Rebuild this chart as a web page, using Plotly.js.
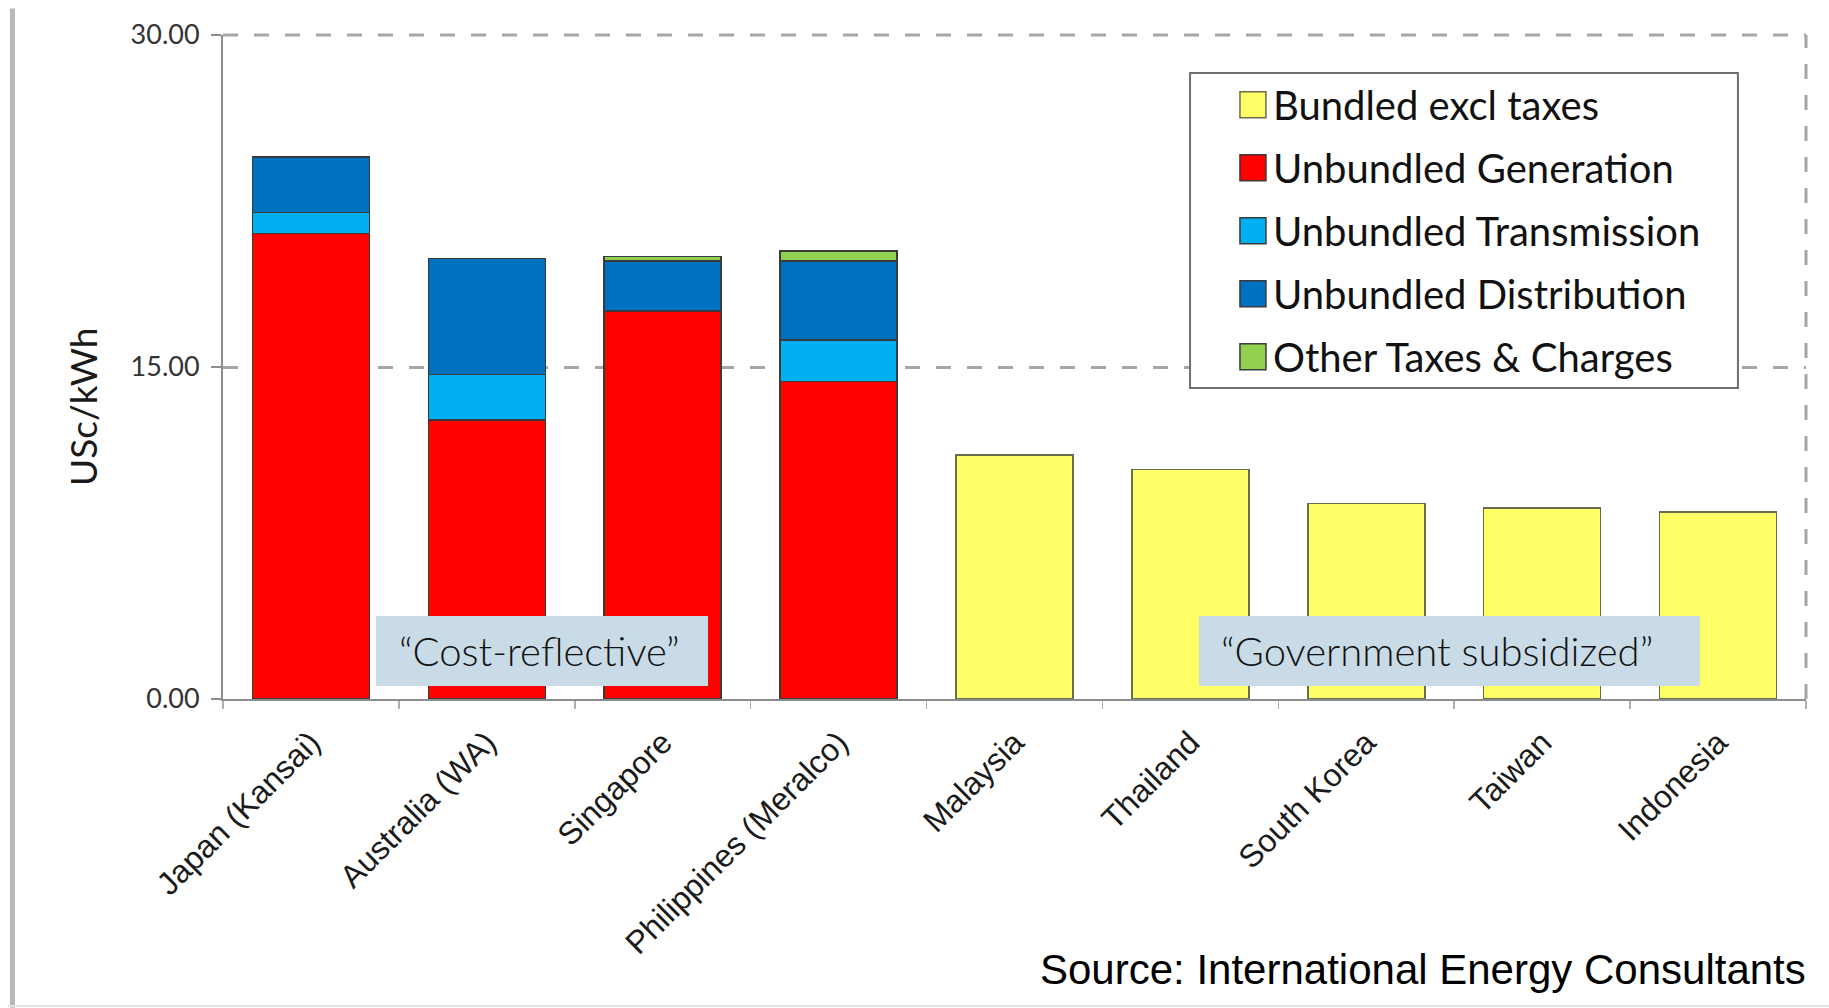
<!DOCTYPE html>
<html>
<head>
<meta charset="utf-8">
<script src="https://cdn.plot.ly/plotly-3.0.1.min.js"></script>
<style>
  html, body { margin: 0; padding: 0; background: #ffffff; }
  #chart { width: 1829px; height: 1008px; }
</style>
</head>
<body>
<div id="chart"></div>
<script>
// ---- Data ----
const categories = ['Japan (Kansai)', 'Australia (WA)', 'Singapore', 'Philippines (Meralco)',
                    'Malaysia', 'Thailand', 'South Korea', 'Taiwan', 'Indonesia'];
const bundledExclTaxes      = [null, null, null, null, 11.03, 10.38, 8.84, 8.64, 8.44];
const unbundledGeneration   = [21.04, 12.60, 17.53, 14.34, null, null, null, null, null];
const unbundledTransmission = [0.95, 2.07, null, 1.88, null, null, null, null, null];
const unbundledDistribution = [2.49, 5.23, 2.27, 3.58, null, null, null, null, null];
const otherTaxesCharges     = [null, null, 0.19, 0.44, null, null, null, null, null];
const seriesNames = ['Bundled excl taxes', 'Unbundled Generation', 'Unbundled Transmission',
                     'Unbundled Distribution', 'Other Taxes & Charges'];
const yTickValues = [0, 15, 30];
const yTickLabels = ['0.00', '15.00', '30.00'];
const yAxisLabel = 'USc/kWh';
const groupLabels = ['“Cost-reflective”', '“Government subsidized”'];
const sourceNote = 'Source: International Energy Consultants';

// ---- Styling ----
const colors = ['#ffff66', '#ff0000', '#00b0f0', '#0070c0', '#92d050'];
const outline = { color: '#3a3a3a', width: 1.5 };
const seriesValues = [bundledExclTaxes, unbundledGeneration, unbundledTransmission,
                      unbundledDistribution, otherTaxesCharges];

const traces = seriesValues.map((vals, i) => ({
  type: 'bar',
  name: seriesNames[i],
  x: categories,
  y: vals,
  legendgroup: 'g' + i,
  marker: { color: colors[i], line: i === 0 ? { color: '#6b6b50', width: 1.5 } : outline },
  hoverinfo: 'x+y+name'
}));

const gridColor = '#a6a6a6';
const axisColor = '#8c8c8c';
const calloutFill = '#c9dbe7';
const calloutFont = { family: 'Lato, "Open Sans", sans-serif', size: 40, weight: 300, color: '#111111' };

const layout = {
  width: 1829,
  height: 1008,
  margin: { l: 223, r: 23, t: 35, b: 309 },
  paper_bgcolor: '#ffffff',
  plot_bgcolor: '#ffffff',
  barmode: 'stack',
  bargap: 0.335,
  showlegend: true,
  legend: {
    x: 0.638, y: 0.944, xanchor: 'left', yanchor: 'top',
    bgcolor: 'rgba(0,0,0,0)',
    borderwidth: 0,
    traceorder: 'grouped',
    tracegroupgap: 8,
    font: { family: 'Lato, "Open Sans", sans-serif', size: 40, color: '#111111' }
  },
  xaxis: {
    type: 'category',
    showline: true, linecolor: axisColor, linewidth: 2,
    ticks: 'outside', tickson: 'boundaries', ticklen: 8, tickcolor: '#b0b0b0', tickwidth: 1.5,
    tickangle: -45,
    ticklabelstandoff: 10,
    tickfont: { family: '"Liberation Sans", Arial, sans-serif', size: 32, color: '#1a1a1a' },
    showgrid: false,
    zeroline: false
  },
  yaxis: {
    range: [0, 30],
    tickvals: yTickValues,
    ticktext: yTickLabels,
    showline: true, linecolor: axisColor, linewidth: 2,
    ticks: 'outside', ticklen: 10, tickcolor: axisColor, tickwidth: 1.5,
    ticklabelstandoff: 6,
    tickfont: { family: 'Lato, "Open Sans", sans-serif', size: 27, color: '#333333' },
    showgrid: true, gridcolor: gridColor, gridwidth: 3, griddash: '15px,16px',
    zeroline: false
  },
  shapes: [
    // dashed top border (30.00 gridline) and right border of plot area
    { type: 'line', xref: 'paper', yref: 'paper', x0: 0, x1: 1, y0: 1, y1: 1,
      line: { color: gridColor, width: 3, dash: '15px,16px' } },
    { type: 'line', xref: 'paper', yref: 'paper', x0: 1, x1: 1, y0: 0, y1: 1,
      line: { color: gridColor, width: 3, dash: '15px,16px' } },
    // legend box
    { type: 'rect', xref: 'paper', yref: 'paper', layer: 'above',
      x0: 0.6109, x1: 0.957, y0: 0.4684, y1: 0.9428,
      fillcolor: '#ffffff', line: { color: '#707070', width: 2 } },
    // call-out boxes
    { type: 'rect', xref: 'paper', yref: 'paper', layer: 'above',
      x0: 0.0967, x1: 0.3064, y0: 0.0196, y1: 0.125,
      fillcolor: calloutFill, line: { width: 0 } },
    { type: 'rect', xref: 'paper', yref: 'paper', layer: 'above',
      x0: 0.6166, x1: 0.9330, y0: 0.0196, y1: 0.125,
      fillcolor: calloutFill, line: { width: 0 } },
    // left frame edge of the slide picture
    { type: 'line', xref: 'paper', yref: 'paper', x0: -0.133, x1: -0.133, y0: -0.465, y1: 1.04,
      line: { color: '#b8b8b8', width: 5 } },
    // bottom frame edge
    { type: 'line', xref: 'paper', yref: 'paper', x0: -0.136, x1: 1.0145, y0: -0.4623, y1: -0.4623,
      line: { color: '#e2e2e2', width: 2 } }
  ],
  annotations: [
    { xref: 'paper', yref: 'paper', x: -0.0884, y: 0.44, xanchor: 'center', yanchor: 'middle',
      text: yAxisLabel, textangle: -90, showarrow: false,
      font: { family: 'Lato, "Open Sans", sans-serif', size: 37, color: '#1a1a1a' } },
    { xref: 'paper', yref: 'paper', x: 0.1099, y: 0.0723, xanchor: 'left', yanchor: 'middle',
      text: groupLabels[0], showarrow: false, font: calloutFont },
    { xref: 'paper', yref: 'paper', x: 0.6292, y: 0.0723, xanchor: 'left', yanchor: 'middle',
      text: groupLabels[1], showarrow: false, font: calloutFont },
    { xref: 'paper', yref: 'paper', x: 1.0013, y: -0.408, xanchor: 'right', yanchor: 'middle',
      text: sourceNote, showarrow: false,
      font: { family: '"Liberation Sans", Arial, sans-serif', size: 42, color: '#000000' } }
  ]
};

Plotly.newPlot('chart', traces, layout, { staticPlot: true, displayModeBar: false }).then(gd => {
  gd.querySelectorAll('.legend .legendpoints path').forEach(p => {
    p.setAttribute('d', 'M13,13H-13V-13H13Z');
  });
});
</script>
</body>
</html>
